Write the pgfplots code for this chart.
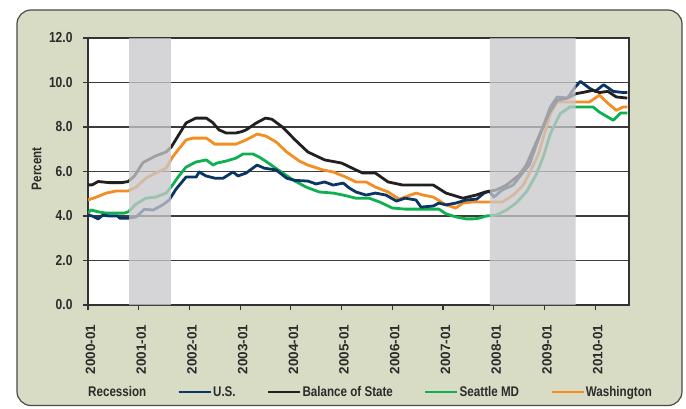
\documentclass[border=0pt]{standalone}
\usepackage{fontspec}
\setmainfont{Liberation Sans}[FakeStretch=0.83]
\newfontfamily\widefont{Liberation Sans}
\usepackage{pgfplots}
\pgfplotsset{compat=1.18}
\definecolor{framebg}{HTML}{D9DCC4}
\definecolor{framedraw}{HTML}{4A4A4A}
\definecolor{axisc}{HTML}{333333}
\definecolor{gridc}{HTML}{3C3C3C}
\definecolor{textc}{HTML}{2B2B2B}
\definecolor{bandc}{HTML}{C8C8CC}
\definecolor{usc}{HTML}{0A3564}
\definecolor{bosc}{HTML}{231F20}
\definecolor{seac}{HTML}{0FB050}
\definecolor{wac}{HTML}{F58E22}
\begin{document}
\begin{tikzpicture}
\path (0,0) rectangle (686pt,408pt);
\draw[fill=framebg, draw=framedraw, line width=1.2pt, rounded corners=14pt] (17pt,2.5pt) rectangle (682pt,398pt);
\begin{axis}[
  at={(88pt,103pt)}, anchor=south west, scale only axis,
  width=541pt, height=267pt,
  xmin=0, xmax=128, ymin=0, ymax=12,
  axis background/.style={fill=white},
  axis line style={draw=axisc, line width=1.6pt},
  ytick={0,2,...,12},
  xtick={0,12,...,120},
  xticklabels={2000-01,2001-01,2002-01,2003-01,2004-01,2005-01,2006-01,2007-01,2008-01,2009-01,2010-01},
  ymajorgrids, grid style={draw=gridc, line width=1.2pt},
  tick align=outside, major tick length=5pt,
  tick style={draw=axisc, line width=1.2pt},
  xtick pos=left, ytick pos=left,
  tick label style={text=textc},
  yticklabel style={font=\fontsize{14.5}{16}\selectfont\bfseries, /pgf/number format/fixed, /pgf/number format/fixed zerofill, /pgf/number format/precision=1, /pgf/number format/assume math mode=true, xshift=-7pt},
  xticklabel style={font=\widefont\fontsize{13.5}{16}\selectfont\bfseries, yshift=-11pt, xshift=2.5pt, rotate=90, anchor=east},
  ylabel={Percent},
  ylabel style={at={(axis description cs:-0.095,0.51)}, anchor=center, font=\fontsize{14}{16}\selectfont\bfseries, text=textc},
  legend image code/.code={\draw[#1] (0pt,0pt) -- (32pt,0pt);},
  legend style={at={(axis description cs:-0.061,-0.326)}, anchor=west, draw=none, fill=none, inner sep=0pt,
    legend columns=-1, font=\fontsize{14}{16}\selectfont\bfseries, text=textc,
    /tikz/every odd column/.append style={column sep=0pt},
    /tikz/every even column/.append style={column sep=30pt},
    nodes={inner xsep=1pt, inner ysep=1pt}},
  legend cell align=left,
]
\addlegendimage{draw opacity=0, line width=0pt}
\addlegendentry{Recession}
\addlegendimage{usc, line width=2.8pt}
\addlegendentry{U.S.}
\addlegendimage{bosc, line width=2.8pt}
\addlegendentry{Balance of State}
\addlegendimage{seac, line width=2.8pt}
\addlegendentry{Seattle MD}
\addlegendimage{wac, line width=2.8pt}
\addlegendentry{Washington}

% Seattle MD
\addplot[seac, line width=2.8pt, line join=round, forget plot] coordinates {
(0,4.13) (0.7,4.27) (2.6,4.18) (4.3,4.13) (8.5,4.13) (9.5,4.18) (11.4,4.54) (13.7,4.8) (16,4.85) (18.5,5.03) (20,5.39) (21.3,5.75) (23.2,6.2) (25.6,6.43) (28,6.52) (29.6,6.29) (30.5,6.38) (32.7,6.47) (35,6.6) (36.7,6.79) (39,6.79) (40.5,6.65) (42,6.47) (45,6.07) (48.5,5.62) (51.6,5.3) (54.7,5.08) (58,5.03) (60.4,4.94) (63.4,4.8) (66.5,4.8) (69,4.63) (72,4.36) (75,4.31) (83,4.31) (84.7,4.1) (87,3.96) (89.5,3.87) (91,3.87) (92.5,3.9) (94.2,4.0) (96.6,4.04) (99,4.27) (101.3,4.58) (103.7,5.08) (106,5.84) (107.7,6.65) (109.4,7.7) (111.7,8.6) (114,8.9) (119.5,8.9) (121,8.67) (124.3,8.3) (126,8.63) (127.6,8.63)
};
% Washington
\addplot[wac, line width=2.8pt, line join=round, forget plot] coordinates {
(0,4.72) (2,4.85) (4.3,5.03) (6.6,5.12) (9.5,5.12) (11.4,5.3) (13.7,5.7) (16,5.93) (18.5,6.15) (20,6.65) (21.3,6.97) (23.2,7.42) (24.8,7.5) (28,7.5) (30,7.23) (35,7.23) (37.4,7.42) (40,7.68) (42,7.6) (44.5,7.33) (47,6.88) (50,6.47) (52,6.29) (55.6,6.07) (58,5.98) (61,5.75) (63.4,5.53) (65.8,5.53) (68,5.3) (71,5.08) (73.6,4.76) (75,4.85) (77.6,5.03) (79.3,4.94) (81.7,4.85) (84.7,4.5) (87,4.36) (88.7,4.58) (91,4.63) (95,4.63) (98,4.63) (100.6,4.94) (103,5.39) (105,6.15) (106.5,6.74) (108,7.7) (109.4,8.6) (111,9.12) (115.5,9.12) (118.6,9.12) (121,9.43) (123,9.07) (125,8.75) (126.6,8.9) (127.6,8.9)
};
% U.S.
\addplot[usc, line width=2.8pt, line join=round, forget plot] coordinates {
(0,4.04) (1,4.0) (2.4,3.87) (3.5,4.04) (5,4.0) (7,4.0) (7.5,3.9) (9.5,3.9) (11.4,3.96) (13.3,4.3) (15.4,4.27) (17.7,4.5) (19.2,4.72) (20.8,5.2) (23.2,5.75) (25.6,5.75) (26.3,5.98) (27.9,5.8) (30,5.7) (32,5.7) (34.3,5.98) (35.5,5.8) (37.4,5.93) (40,6.29) (41.7,6.15) (44.5,6.07) (47,5.7) (49,5.6) (52,5.57) (54,5.44) (56,5.53) (58,5.39) (60.4,5.48) (61.8,5.26) (63.4,5.08) (65.8,4.94) (68,5.03) (70.5,4.94) (73,4.67) (75,4.8) (77.6,4.72) (78.8,4.4) (81.7,4.45) (83,4.58) (84.7,4.5) (87,4.58) (89.5,4.72) (92,4.76) (93.7,5.03) (95,5.12) (96,4.85) (98,5.17) (100.6,5.39) (103,5.98) (104.4,6.29) (106.5,7.42) (109.4,8.9) (111,9.35) (113.4,9.3) (115.3,9.8) (116.5,10.05) (118.6,9.75) (120,9.6) (122,9.9) (124.3,9.6) (126.6,9.55) (127.6,9.55)
};
% Balance of State
\addplot[bosc, line width=2.8pt, line join=round, forget plot] coordinates {
(0,5.4) (1,5.4) (2.4,5.55) (5,5.5) (8,5.5) (9.5,5.55) (11,5.8) (13,6.4) (16,6.7) (18.5,6.88) (19.7,7.1) (21,7.5) (23.2,8.18) (25.5,8.4) (28,8.4) (29.5,8.2) (31,7.87) (32.7,7.73) (35,7.73) (36.5,7.8) (37.4,7.87) (39.8,8.18) (42,8.4) (43.5,8.35) (46,8.0) (49,7.42) (52,6.88) (56,6.52) (60,6.38) (63.4,6.07) (65,5.93) (68,5.93) (71,5.53) (74.5,5.39) (81.7,5.39) (84.7,5.03) (88.7,4.8) (91.8,4.94) (94,5.08) (96.6,5.17) (99,5.39) (102,5.84) (103.7,6.29) (106.5,7.5) (109,8.6) (111,9.2) (113.4,9.3) (115.5,9.5) (117,9.55) (119.5,9.65) (121,9.55) (123,9.6) (125,9.35) (127.6,9.3)
};
% Recession bands
\addplot[draw=none, fill=bandc, fill opacity=0.76, forget plot] coordinates {(9.75,0) (9.75,12) (19.6,12) (19.6,0)} \closedcycle;
\addplot[draw=none, fill=bandc, fill opacity=0.76, forget plot] coordinates {(95.1,0) (95.1,12) (115.4,12) (115.4,0)} \closedcycle;
\end{axis}
\end{tikzpicture}
\end{document}
